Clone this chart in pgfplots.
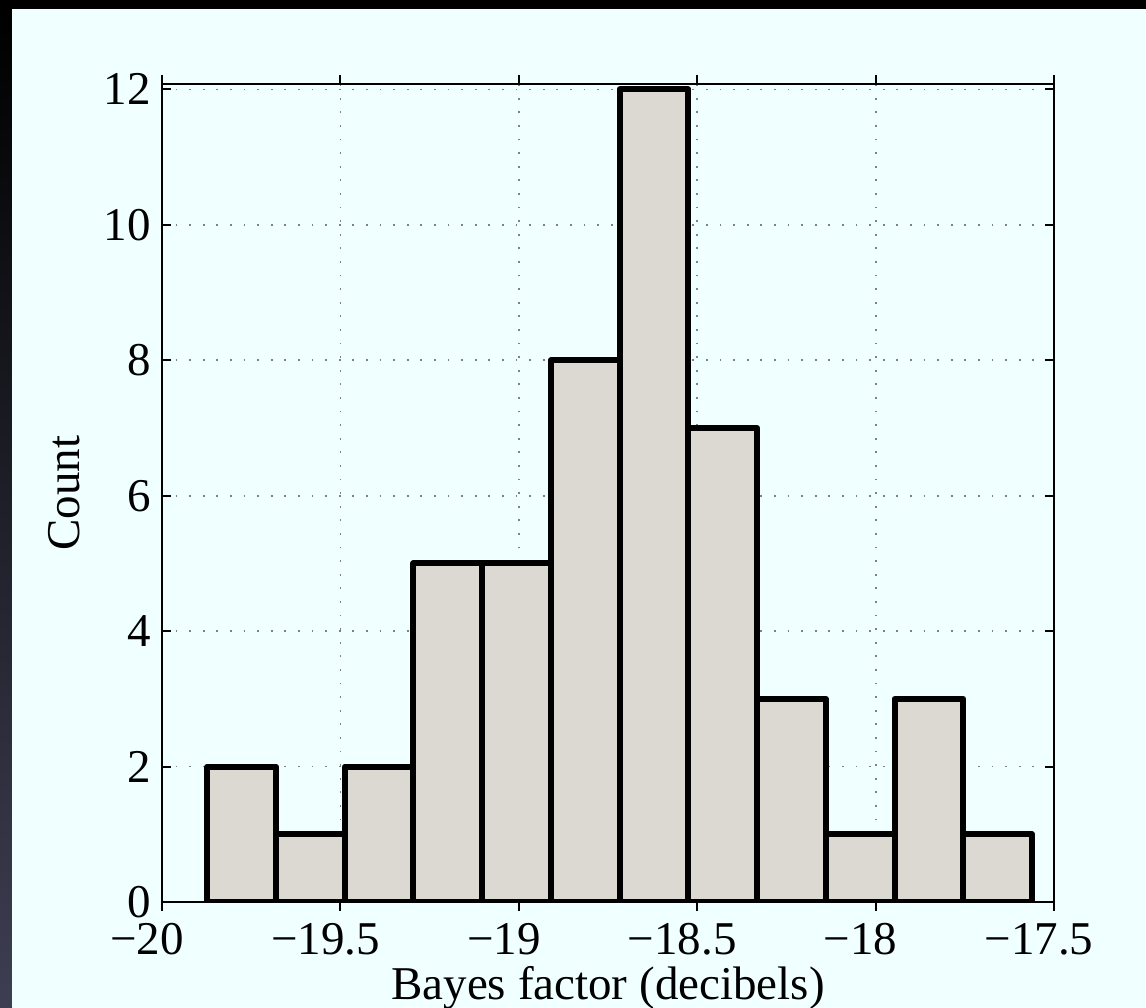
\documentclass[border=0pt]{standalone}
\usepackage{fontspec}
\setmainfont{Liberation Serif}
\usepackage{pgfplots}
\pgfplotsset{compat=1.18}
\definecolor{bgazure}{RGB}{240,255,255}
\definecolor{barfill}{RGB}{220,217,210}
\definecolor{darkedge}{RGB}{62,62,82}

\begin{document}
\begin{tikzpicture}
\useasboundingbox (0,0) rectangle (573pt,503.5pt);
\fill[black] (0,0) rectangle (573pt,503.5pt);
\shade[top color=black,bottom color=darkedge] (0,0) rectangle (6pt,499pt);
\fill[bgazure] (6pt,0) rectangle (573pt,499pt);
\begin{axis}[
  at={(81pt,52.5pt)}, anchor=south west,
  scale only axis, width=446pt, height=409pt,
  xmin=-20, xmax=-17.5, ymin=0, ymax=12.08,
  xtick={-20,-19.5,-19,-18.5,-18,-17.5},
  xticklabels={−20,−19.5,−19,−18.5,−18,−17.5},
  ytick={0,2,4,6,8,10,12},
  /pgf/number format/assume math mode=true,
  font=\fontsize{23.5}{28}\selectfont,
  tick align=inside, major tick length=4.5pt,
  axis line style={line width=1pt},
  tick style={line width=1pt, black},
  grid=major,
  major grid style={gray, line width=0.9pt, dash pattern=on 0.9pt off 5.9pt},
  xticklabel style={anchor=base, yshift=-21.5pt, xshift=-7.5pt},
  yticklabel style={anchor=east, inner sep=0pt, xshift=-5.5pt},
  xlabel={Bayes factor (decibels)},
  ylabel={Count},
  every axis x label/.style={at={(axis description cs:0.5,-0.1198)}, anchor=base},
  every axis y label/.style={at={(axis description cs:-0.11,0.5)}, rotate=90, anchor=center},
  ybar, bar width=0.1926, bar shift=0pt,
]
\addplot[ybar, fill=barfill, draw=black, line width=3pt, line join=round] coordinates {
  (-19.7767,2) (-19.5841,1) (-19.3915,2) (-19.1989,5) (-19.0063,5) (-18.8137,8)
  (-18.6211,12) (-18.4285,7) (-18.2359,3) (-18.0433,1) (-17.8507,3) (-17.6581,1)
};
\end{axis}
\end{tikzpicture}
\end{document}
